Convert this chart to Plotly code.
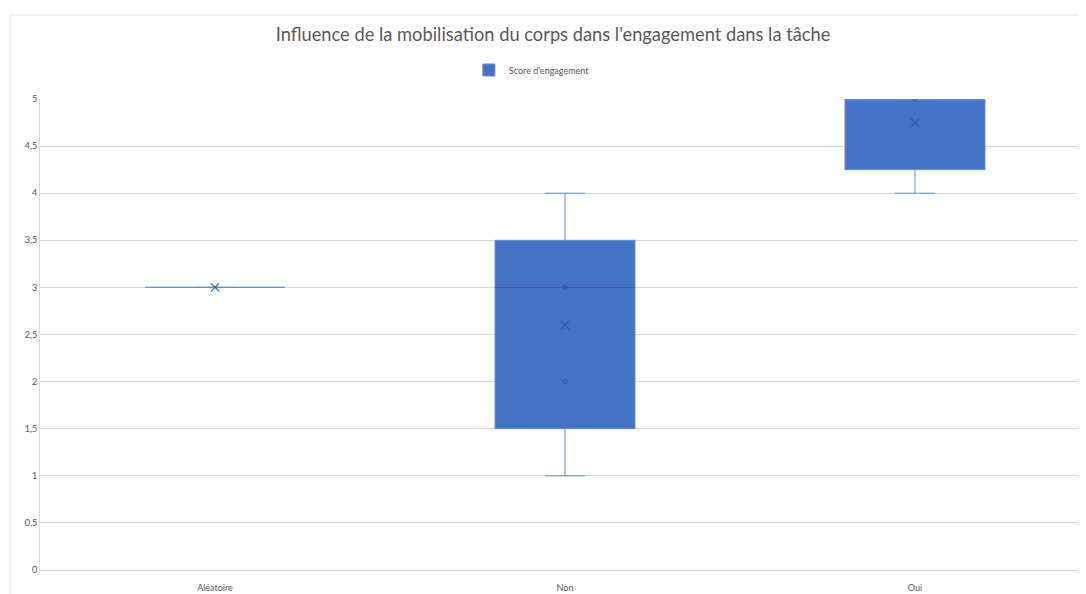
import plotly.graph_objects as go

# Data (Excel box & whisker, exclusive quartiles)
categories = ["Aléatoire", "Non", "Oui"]
q1_vals = [3, 1.5, 4.25]
median_vals = [3, 3, 5]
q3_vals = [3, 3.5, 5]
lower_vals = [3, 1, 4]
upper_vals = [3, 4, 5]
mean_vals = [3, 2.6, 4.75]
inner_x = ["Non", "Non", "Oui"]
inner_y = [3, 2, 5]
y_ticks = [0, 0.5, 1, 1.5, 2, 2.5, 3, 3.5, 4, 4.5, 5]

title_text = "Influence de la mobilisation du corps dans l'engagement dans la tâche"
series_name = "Score d'engagement"

blue = "#4472C4"
text_col = "#595959"
grid_col = "#D9D9D9"

# median lines that fall strictly inside a box (Excel draws them darker)
med_x = [c for c, m, a, b in zip(categories, median_vals, q1_vals, q3_vals) if a < m < b]
med_y = [m for m, a, b in zip(median_vals, q1_vals, q3_vals) if a < m < b]

fig = go.Figure()
fig.add_trace(go.Box(
    x=categories, q1=q1_vals, median=median_vals, q3=q3_vals,
    lowerfence=lower_vals, upperfence=upper_vals,
    name=series_name, fillcolor=blue,
    line=dict(color="#6A8CCF", width=1),
    width=0.4, whiskerwidth=0.29, boxpoints=False, showlegend=True,
))
fig.add_trace(go.Scatter(
    x=med_x, y=med_y, mode="markers", showlegend=False, hoverinfo="skip",
    marker=dict(symbol="line-ew-open", size=100, color="#35599B", line=dict(width=1, color="#35599B")),
))
fig.add_trace(go.Scatter(
    x=inner_x, y=inner_y, mode="markers", showlegend=False,
    marker=dict(symbol="circle-open", size=4, color="#34589C", line=dict(width=1)),
    hoverinfo="skip",
))
fig.add_trace(go.Scatter(
    x=categories, y=mean_vals, mode="markers", showlegend=False,
    marker=dict(symbol="x-thin-open", size=8, color="#34589C", line=dict(width=1.2, color="#34589C")),
))

fig.update_layout(
    width=1078, height=586,
    paper_bgcolor="white", plot_bgcolor="white",
    separators=", ",
    font=dict(family="Lato, Liberation Sans, sans-serif", color=text_col, size=9),
    title=dict(text=title_text, x=0.5056, xanchor="center", y=0.954, yanchor="middle",
               font=dict(size=18.3, color=text_col)),
    margin=dict(l=32, r=0, t=91, b=24),
    legend=dict(orientation="h", x=0.41, xanchor="left", y=1.0616, yanchor="middle",
                font=dict(size=9, color=text_col), itemwidth=30),
    xaxis=dict(type="category", range=[-0.5, 2.4886], showgrid=False,
               showline=True, linecolor=grid_col, ticks="outside", ticklen=9,
               tickcolor="rgba(0,0,0,0)",
               tickfont=dict(size=9, color=text_col)),
    yaxis=dict(range=[0, 5], tickvals=y_ticks, showgrid=True, gridcolor=grid_col,
               zeroline=False, showline=True, linecolor=grid_col, ticks="",
               tickfont=dict(size=9, color=text_col)),
    shapes=[dict(type="rect", xref="paper", yref="paper",
                 x0=-30/1046, x1=1.01, y0=-0.1, y1=(562-7)/471,
                 line=dict(color="#E3E3E3", width=1), fillcolor="rgba(0,0,0,0)", layer="below")],
)

fig.write_html("out.html")
